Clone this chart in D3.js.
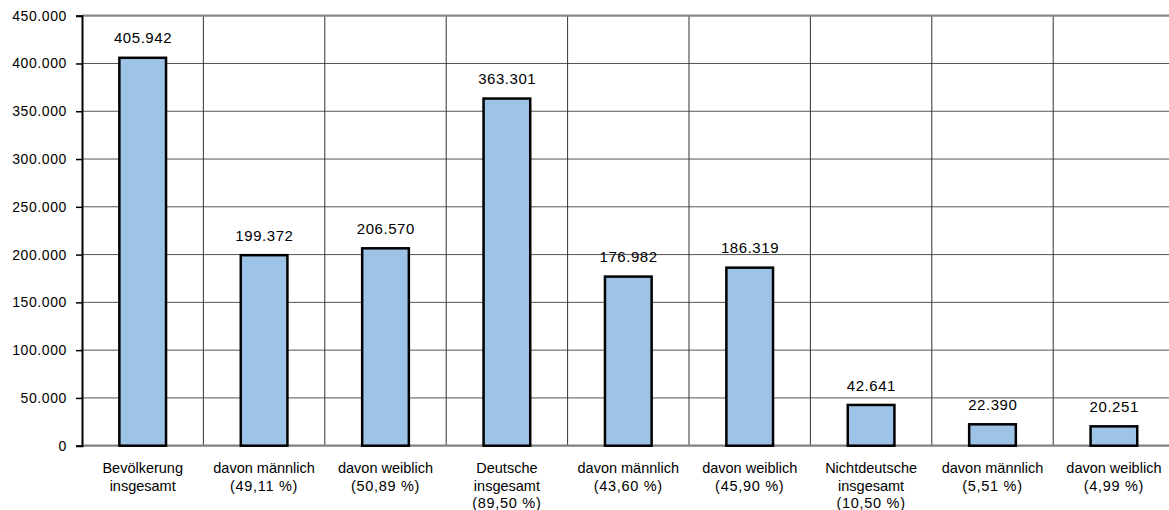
<!DOCTYPE html>
<html>
<head>
<meta charset="utf-8">
<script src="https://cdn.jsdelivr.net/npm/d3@7"></script>
<style>
  html, body { margin: 0; padding: 0; background: #fff; }
  svg { display: block; }
  text { font-family: "Liberation Sans", Arial, sans-serif; fill: #000; }
</style>
</head>
<body>
<svg id="chart" width="1169" height="510"></svg>
<script>
// ---- data ----
const categories = [
  ["Bevölkerung", "insgesamt"],
  ["davon männlich", "(49,11 %)"],
  ["davon weiblich", "(50,89 %)"],
  ["Deutsche", "insgesamt", "(89,50 %)"],
  ["davon männlich", "(43,60 %)"],
  ["davon weiblich", "(45,90 %)"],
  ["Nichtdeutsche", "insgesamt", "(10,50 %)"],
  ["davon männlich", "(5,51 %)"],
  ["davon weiblich", "(4,99 %)"]
];
const values = [405942, 199372, 206570, 363301, 176982, 186319, 42641, 22390, 20251];
const yTicks = [0, 50000, 100000, 150000, 200000, 250000, 300000, 350000, 400000, 450000];

// ---- layout ----
const svg = d3.select("#chart");
const plotLeft = 82, catStep = 121.4;
const plotRight = plotLeft + categories.length * catStep;
const plotTop = 15.7, plotBottom = 445.7;

const de = d3.formatLocale({decimal: ",", thousands: ".", grouping: [3], currency: ["", "€"]});
const fmt = de.format(",d");

const x = d3.scaleBand()
  .domain(d3.range(categories.length))
  .range([plotLeft, plotRight])
  .paddingInner(0.595)
  .paddingOuter(0.2975);
const y = d3.scaleLinear().domain([0, 450000]).range([plotBottom, plotTop]);

svg.append("rect").attr("width", 1169).attr("height", 510).attr("fill", "#fff");

// horizontal gridlines
svg.append("g").selectAll("line")
  .data(yTicks.filter(t => t > 0 && t < 450000))
  .join("line")
  .attr("x1", plotLeft).attr("x2", 1169)
  .attr("y1", d => y(d)).attr("y2", d => y(d))
  .attr("stroke", "#555").attr("stroke-width", 1);

// vertical gridlines at category boundaries
svg.append("g").selectAll("line")
  .data(d3.range(1, categories.length))
  .join("line")
  .attr("x1", i => x(i) - x.step() * x.paddingInner() / 2)
  .attr("x2", i => x(i) - x.step() * x.paddingInner() / 2)
  .attr("y1", plotTop).attr("y2", plotBottom)
  .attr("stroke", "#333").attr("stroke-width", 1);

// top and bottom border lines
svg.append("line").attr("x1", plotLeft).attr("x2", 1169).attr("y1", y(450000)).attr("y2", y(450000))
  .attr("stroke", "#888").attr("stroke-width", 2.2);
svg.append("line").attr("x1", plotLeft).attr("x2", 1169).attr("y1", y(0)).attr("y2", y(0))
  .attr("stroke", "#808080").attr("stroke-width", 2.2);

// bars
const sw = 2.5;
svg.append("g").selectAll("rect")
  .data(values)
  .join("rect")
  .attr("x", (d, i) => x(i) + sw / 2)
  .attr("width", x.bandwidth() - sw)
  .attr("y", d => y(d))
  .attr("height", d => y(0) - y(d))
  .attr("fill", "#9dc3e6")
  .attr("stroke", "#000")
  .attr("stroke-width", sw);

// value labels
svg.append("g").selectAll("text")
  .data(values)
  .join("text")
  .attr("x", (d, i) => x(i) + x.bandwidth() / 2 + 0.3)
  .attr("y", d => y(d) - 14.3)
  .attr("text-anchor", "middle")
  .attr("font-size", "15px")
  .attr("letter-spacing", "0.55px")
  .text(d => fmt(d));

// y axis
const yAxis = d3.axisLeft(y).tickValues(yTicks).tickSize(6).tickPadding(9)
  .tickFormat(d => fmt(d));
const ga = svg.append("g").attr("transform", `translate(${plotLeft},0)`).call(yAxis);
ga.select(".domain").attr("stroke", "#000").attr("stroke-width", 2);
ga.selectAll(".tick line").attr("stroke", "#000").attr("stroke-width", 1.5);
ga.selectAll(".tick text")
  .attr("font-family", "Liberation Sans, Arial, sans-serif")
  .attr("font-size", "14px")
  .attr("letter-spacing", "0.6px")
  .attr("fill", "#000");

// category labels
const cat = svg.append("g").selectAll("text")
  .data(categories)
  .join("text")
  .attr("text-anchor", "middle")
  .attr("font-size", "14.5px");
cat.each(function(lines, i) {
  d3.select(this).selectAll("tspan")
    .data(lines)
    .join("tspan")
    .attr("x", x(i) + x.bandwidth() / 2)
    .attr("y", (l, j) => 473 + j * 17.7)
    .attr("letter-spacing", l => l.startsWith("(") ? "0.7px" : null)
    .text(l => l);
});
</script>
</body>
</html>
